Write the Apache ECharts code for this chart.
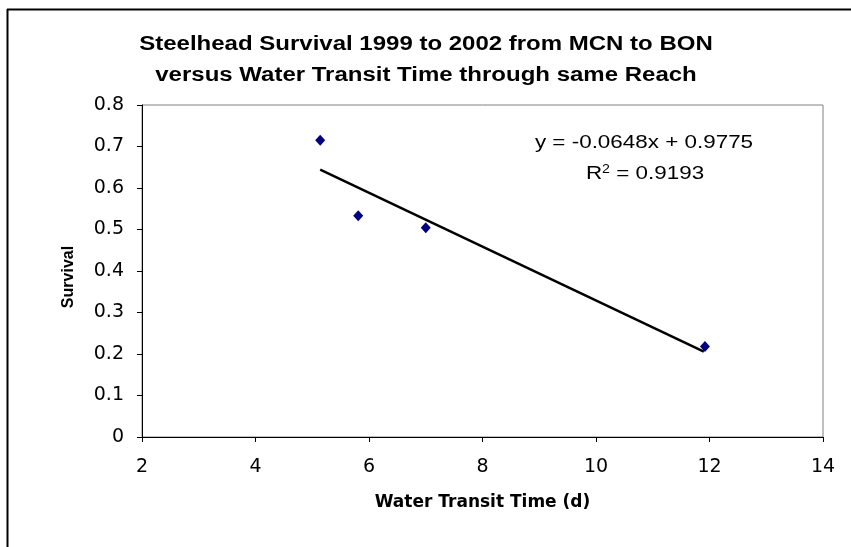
<!DOCTYPE html>
<html>
<head>
<meta charset="utf-8">
<script src="https://cdn.jsdelivr.net/npm/echarts@6/dist/echarts.min.js"></script>
<style>html,body{margin:0;padding:0;background:#fff}#c{width:851px;height:547px}</style>
</head>
<body>
<div id="c"></div>
<script>
var titleLines = ['Steelhead Survival 1999 to 2002 from MCN to BON', 'versus Water Transit Time through same Reach'];
var xAxisName = 'Water Transit Time (d)';
var yAxisName = 'Survival';
var transitTime = [5.14, 5.81, 7.0, 11.92];
var survival = [0.715, 0.533, 0.504, 0.218];
var trendX = [5.14, 11.9];
var trendY = [0.644, 0.206];
var equationText = 'y = -0.0648x + 0.9775';
var r2Value = '0.9193';

var points = transitTime.map(function (x, i) { return [x, survival[i]]; });
var trend = trendX.map(function (x, i) { return [x, trendY[i]]; });

var chart = echarts.init(document.getElementById('c'), null, {renderer: 'canvas'});
var font = 'Arial, "Liberation Sans", sans-serif';
var wide = '"DejaVu Sans", sans-serif';
chart.setOption({
  backgroundColor: '#fff',
  animation: false,
  grid: {left: 142, top: 105, right: 28, bottom: 110, show: true, borderColor: '#808080', borderWidth: 1},
  xAxis: {
    type: 'value', min: 2, max: 14, interval: 2,
    name: xAxisName, nameLocation: 'middle', nameGap: 57,
    nameTextStyle: {fontFamily: wide, fontSize: 17, fontWeight: 'bold', color: '#000'},
    axisLine: {onZero: false, lineStyle: {color: '#000', width: 1}},
    axisTick: {show: true, length: 5, inside: false, lineStyle: {color: '#000'}},
    axisLabel: {fontFamily: wide, fontSize: 19, color: '#000', margin: 21},
    splitLine: {show: false}
  },
  yAxis: {
    type: 'value', min: 0, max: 0.8, interval: 0.1,
    name: yAxisName, nameLocation: 'middle', nameGap: 65, nameRotate: 90,
    nameTextStyle: {fontFamily: font, fontSize: 16, fontWeight: 'bold', color: '#000', padding: [0, 12, 0, 0]},
    axisLine: {show: true, lineStyle: {color: '#000', width: 1}},
    axisTick: {show: true, length: 5, lineStyle: {color: '#000'}},
    axisLabel: {fontFamily: wide, fontSize: 19, color: '#000', margin: 18,
      formatter: function (v) { return v === 0 ? '0' : v.toFixed(1); }},
    splitLine: {show: false}
  },
  series: [
    {
      type: 'line', data: trend, symbol: 'none',
      lineStyle: {color: '#000', width: 2.5}, z: 2
    },
    {
      type: 'scatter', data: points, symbol: 'diamond', symbolSize: [10, 11],
      itemStyle: {color: '#000080', opacity: 1}, z: 3
    }
  ],
  graphic: [
    {type: 'line', shape: {x1: 7, y1: 9.5, x2: 851, y2: 9.5}, style: {stroke: '#000', lineWidth: 2}},
    {type: 'line', shape: {x1: 7.5, y1: 9, x2: 7.5, y2: 547}, style: {stroke: '#000', lineWidth: 2}},
    {type: 'text', x: 426, y: 44, scaleX: 1.2,
      style: {text: titleLines[0], font: 'bold 20px ' + font, fill: '#000', textAlign: 'center', textVerticalAlign: 'middle'}},
    {type: 'text', x: 426, y: 75, scaleX: 1.2,
      style: {text: titleLines[1], font: 'bold 20px ' + font, fill: '#000', textAlign: 'center', textVerticalAlign: 'middle'}},
    {type: 'text', x: 644, y: 143, scaleX: 1.18,
      style: {text: equationText, font: '19px ' + font, fill: '#000', textAlign: 'center', textVerticalAlign: 'middle'}},
    {type: 'text', x: 645, y: 174, scaleX: 1.18,
      style: {text: 'R{s|2} = ' + r2Value, font: '19px ' + font, fill: '#000', textAlign: 'center', textVerticalAlign: 'middle',
        rich: {s: {fontSize: 12, fontFamily: font, verticalAlign: 'top', padding: [0, 0, 9, 0]}}}}
  ]
});
</script>
</body>
</html>
